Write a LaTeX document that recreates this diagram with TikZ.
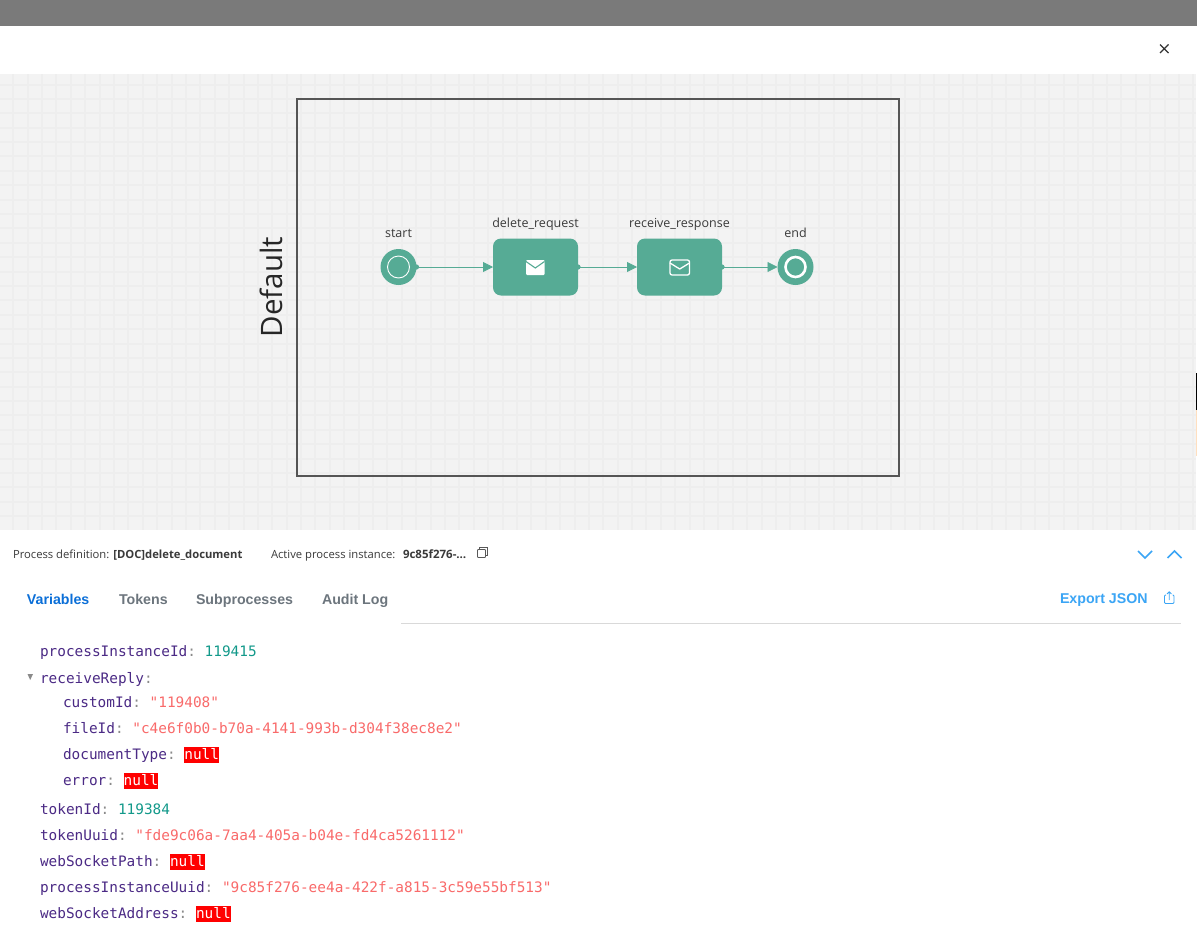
\documentclass[tikz,border=0pt]{standalone}
\usepackage{fontspec}
\setmainfont{Open Sans}
\setmonofont{DejaVu Sans Mono}
\newfontfamily\tabfont{Liberation Sans}
\usetikzlibrary{arrows.meta}
\definecolor{flow}{HTML}{56AB95}
\definecolor{lanec}{HTML}{555555}
\definecolor{gridc}{HTML}{EEEEEE}
\definecolor{canvasc}{HTML}{F3F3F3}
\definecolor{keyc}{HTML}{4B2A85}
\definecolor{punc}{HTML}{8A8A8A}
\definecolor{numc}{HTML}{12998A}
\definecolor{strc}{HTML}{F96A6A}
\definecolor{nullc}{HTML}{FF0000}
\definecolor{linkc}{HTML}{3BA5F5}
\definecolor{tabc}{HTML}{6C757D}
\definecolor{activec}{HTML}{0B6FD8}
\definecolor{txtc}{HTML}{3A3A3A}
\newcommand\jk[1]{\textcolor{keyc}{#1}\textcolor{punc}{:}}
\newcommand\jn[1]{\textcolor{numc}{#1}}
\newcommand\js[1]{\textcolor{strc}{"#1"}}
\newcommand\jnull{{\setlength{\fboxsep}{0pt}\colorbox{nullc}{\textcolor{white}{\rule[-4pt]{0pt}{16pt}null}}}}
\tikzset{
  every node/.style={inner sep=0pt,outer sep=0pt},
  laneb/.style={draw=lanec,line width=2pt,fill=none},
  eventn/.style={circle,fill=flow,minimum size=36pt},
  taskn/.style={rectangle,rounded corners=8pt,fill=flow,minimum width=85pt,minimum height=57pt},
  flowl/.style={draw=flow,line width=0.8pt,-{Triangle[length=10pt,width=10pt]}},
  srcdot/.style={fill=flow},
  lbl/.style={anchor=base,font=\fontsize{12.5pt}{14pt}\selectfont,text=txtc},
  row/.style={anchor=base west,font=\fontsize{14.4pt}{16pt}\selectfont\ttfamily},
  info/.style={anchor=base west,font=\fontsize{11.25pt}{13pt}\selectfont,text=txtc},
  tabn/.style={anchor=base west,font=\fontsize{14.2pt}{16pt}\selectfont\tabfont\bfseries,text=tabc},
  iconw/.style={draw=white,line width=1.3pt,line join=round},
  chev/.style={draw=linkc,line width=1.5pt,line join=miter},
  tool/.style={draw=linkc,line width=0.9pt,line join=round},
}
\begin{document}
\begin{tikzpicture}[x=1pt,y=-1pt]
\useasboundingbox (0,0) rectangle (1197,948);
\fill[white] (0,0) rectangle (1197,948);
\fill[black!52] (0,0) rectangle (1197,26);
% canvas
\fill[canvasc] (0,74) rectangle (1196,530);
\foreach \k in {0,...,82} \draw[gridc,line width=2pt] ({13.3+14.39*\k},74) -- ({13.3+14.39*\k},530);
\foreach \k in {0,...,30} \draw[gridc,line width=2pt] (0,{84.5+14.39*\k}) -- (1196,{84.5+14.39*\k});
\fill[black] (1196,373) rectangle (1197,410);
\fill[orange!25] (1196,410) rectangle (1197,456);
% close
\coordinate (xa) at (1160,44.5); \coordinate (xb) at (1168.5,53);
\coordinate (xc) at (1160,53); \coordinate (xd) at (1168.5,44.5);
\draw[black!80,line width=1.3pt] (xa) -- (xb) (xc) -- (xd);
% lane
\node[laneb,minimum width=602pt,minimum height=377pt,anchor=north west] (lane) at (297,98.5) {};
\node[anchor=center,rotate=90,font=\fontsize{29.5pt}{32pt}\selectfont,text=black!85] (lanet) at (271,287) {Default};
% nodes
\node[eventn] (start) at (398.5,267) {};
\draw[white,line width=0.9pt] (398.5,267) circle (11);
\node[taskn] (req) at (535.5,267) {};
\node[taskn] (res) at (679.5,267) {};
\node[eventn] (end) at (795.5,267) {};
\draw[white,line width=2.6pt] (795.5,267) circle (10);
\node[lbl] (startl) at (398.5,237) {start};
\node[lbl] (reql) at (535.5,227) {delete\_request};
\node[lbl] (resl) at (679.5,227) {receive\_response};
\node[lbl] (endl) at (795.5,237) {end};
% icons
\fill[white,rounded corners=1pt] (526,260) rectangle (544.5,275);
\draw[flow,line width=1.1pt] (526,261.5) -- (535.3,268) -- (544.5,261.5);
\draw[iconw,rounded corners=2pt] (670,260) rectangle (689.5,275);
\draw[iconw] (670,263) -- (679.7,269) -- (689.5,263);
% flows
\draw[flowl] (start) -- (req);
\draw[flowl] (req) -- (res);
\draw[flowl] (res) -- (end);
\fill[srcdot] (start.east) circle (2.6);
\fill[srcdot] (req.east) circle (2.6);
\fill[srcdot] (res.east) circle (2.6);
% info bar
\node[info] (pd) at (13,558) {Process definition: \textbf{[DOC]delete\_document}};
\node[info] (ap) at (271,558) {Active process instance:};
\node[info,font=\fontsize{11.5pt}{13pt}\selectfont\bfseries] (ai) at (403,558) {9c85f276-\dots};
\draw[black!65,line width=0.8pt,rounded corners=0.8pt] (477.5,549.5) rectangle (485.5,557.5);
\draw[black!65,line width=0.8pt] (479.5,549.5) -- (479.5,547.5) -- (487.5,547.5) -- (487.5,555.5) -- (485.5,555.5);
\draw[chev] (1138,551) -- (1145,558) -- (1152,551);
\draw[chev] (1167.5,558) -- (1174.5,551) -- (1181.5,558);
% tabs
\node[tabn,text=activec] (t1) at (27,604) {Variables};
\node[tabn] (t2) at (119,604) {Tokens};
\node[tabn] (t3) at (196,604) {Subprocesses};
\node[tabn] (t4) at (322,604) {Audit Log};
\node[tabn,text=linkc] (ej) at (1060,603) {Export JSON};
\draw[tool,rounded corners=1pt] (1166,595) -- (1164.5,595) -- (1164.5,603.5) -- (1174,603.5) -- (1174,595) -- (1172.5,595);
\draw[tool] (1169.2,600) -- (1169.2,592) (1167,594) -- (1169.2,591.8) -- (1171.4,594);
\draw[black!15,line width=1pt] (401,623.5) -- (1181,623.5);
% json
\node[row] (r1) at (40,656) {\jk{processInstanceId} \jn{119415}};
\fill[punc] (27.5,674) -- (33,674) -- (30.2,680) -- cycle;
\node[row] (r2) at (40,683) {\jk{receiveReply}};
\node[row] (r3) at (63,707) {\jk{customId} \js{119408}};
\node[row] (r4) at (63,733) {\jk{fileId} \js{c4e6f0b0-b70a-4141-993b-d304f38ec8e2}};
\node[row] (r5) at (63,759) {\jk{documentType} \jnull};
\node[row] (r6) at (63,785) {\jk{error} \jnull};
\node[row] (r7) at (40,814) {\jk{tokenId} \jn{119384}};
\node[row] (r8) at (40,840) {\jk{tokenUuid} \js{fde9c06a-7aa4-405a-b04e-fd4ca5261112}};
\node[row] (r9) at (40,866) {\jk{webSocketPath} \jnull};
\node[row] (r10) at (40,892) {\jk{processInstanceUuid} \js{9c85f276-ee4a-422f-a815-3c59e55bf513}};
\node[row] (r11) at (40,918) {\jk{webSocketAddress} \jnull};
\end{tikzpicture}
\end{document}
